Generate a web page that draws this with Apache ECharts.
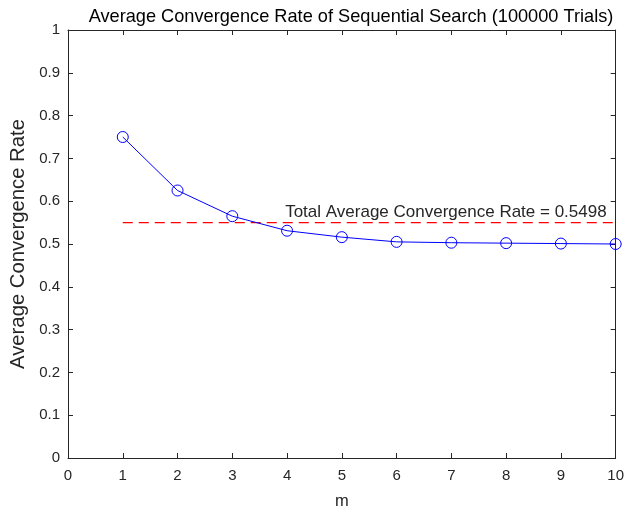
<!DOCTYPE html>
<html><head><meta charset="utf-8">
<script src="https://cdn.jsdelivr.net/npm/echarts@6/dist/echarts.min.js"></script>
<style>html,body{margin:0;padding:0;background:#fff}#c{width:627px;height:515px}</style>
</head><body><div id="c"></div>
<script>
const mValues = [1,2,3,4,5,6,7,8,9,10];
const rates = [0.750,0.625,0.565,0.531,0.516,0.505,0.503,0.502,0.501,0.500];
const totalAvg = 0.5498;
const titleText = 'Average Convergence Rate of Sequential Search (100000 Trials)';
const axisColor = '#262626';
const font = 'Liberation Sans, Arial, Helvetica, sans-serif';
const chart = echarts.init(document.getElementById('c'));
const baseX = {type:'value',min:0,max:10,interval:1,
  axisLine:{show:true,onZero:false,lineStyle:{color:axisColor,width:1}},
  axisTick:{show:true,inside:true,length:5,lineStyle:{color:axisColor}},
  splitLine:{show:false}};
const baseY = {type:'value',min:0,max:1,interval:0.1,
  axisLine:{show:true,onZero:false,lineStyle:{color:axisColor,width:1}},
  axisTick:{show:true,inside:true,length:5,lineStyle:{color:axisColor}},
  splitLine:{show:false}};
chart.setOption({
  animation:false,
  backgroundColor:'#fff',
  title:{text:titleText,left:346,textAlign:'center',top:3,textStyle:{fontFamily:font,fontSize:18.2,fontWeight:'normal',color:'#000'}},
  grid:{left:67,right:11,top:30,bottom:53},
  xAxis:[
    Object.assign({},baseX,{position:'bottom',name:'m',nameLocation:'middle',nameGap:35,
      nameTextStyle:{fontFamily:font,fontSize:16.5,color:axisColor},
      axisLabel:{fontFamily:font,fontSize:15,color:axisColor,margin:10}}),
    Object.assign({},baseX,{position:'top',axisLabel:{show:false}})
  ],
  yAxis:[
    Object.assign({},baseY,{position:'left',name:'Average Convergence Rate',nameLocation:'middle',nameGap:40,
      nameTextStyle:{fontFamily:font,fontSize:20.3,color:axisColor},
      axisLabel:{fontFamily:font,fontSize:15,color:axisColor,margin:8,
        formatter:v=>String(Math.round(v*10)/10)}}),
    Object.assign({},baseY,{position:'right',axisLabel:{show:false}})
  ],
  series:[
    {type:'line',xAxisIndex:0,yAxisIndex:0,
     data:mValues.map((m,i)=>[m,rates[i]]),
     symbol:'circle',symbolSize:11,
     itemStyle:{color:'rgba(255,255,255,0)',borderColor:'#0000ff',borderWidth:1},
     lineStyle:{color:'#0000ff',width:1},
     z:3},
    {type:'line',xAxisIndex:0,yAxisIndex:0,
     data:[[mValues[0],totalAvg],[mValues[mValues.length-1],totalAvg]],
     symbol:'none',
     lineStyle:{color:'#ff0000',width:1.2,type:[10,6]},
     label:{show:false},
     endLabel:{show:true,formatter:'Total Average Convergence Rate = '+totalAvg.toFixed(4),
       fontFamily:font,fontSize:17,color:'#262626',align:'right',verticalAlign:'bottom',
       offset:[-17,-2]},
     z:2}
  ]
});
</script></body></html>
